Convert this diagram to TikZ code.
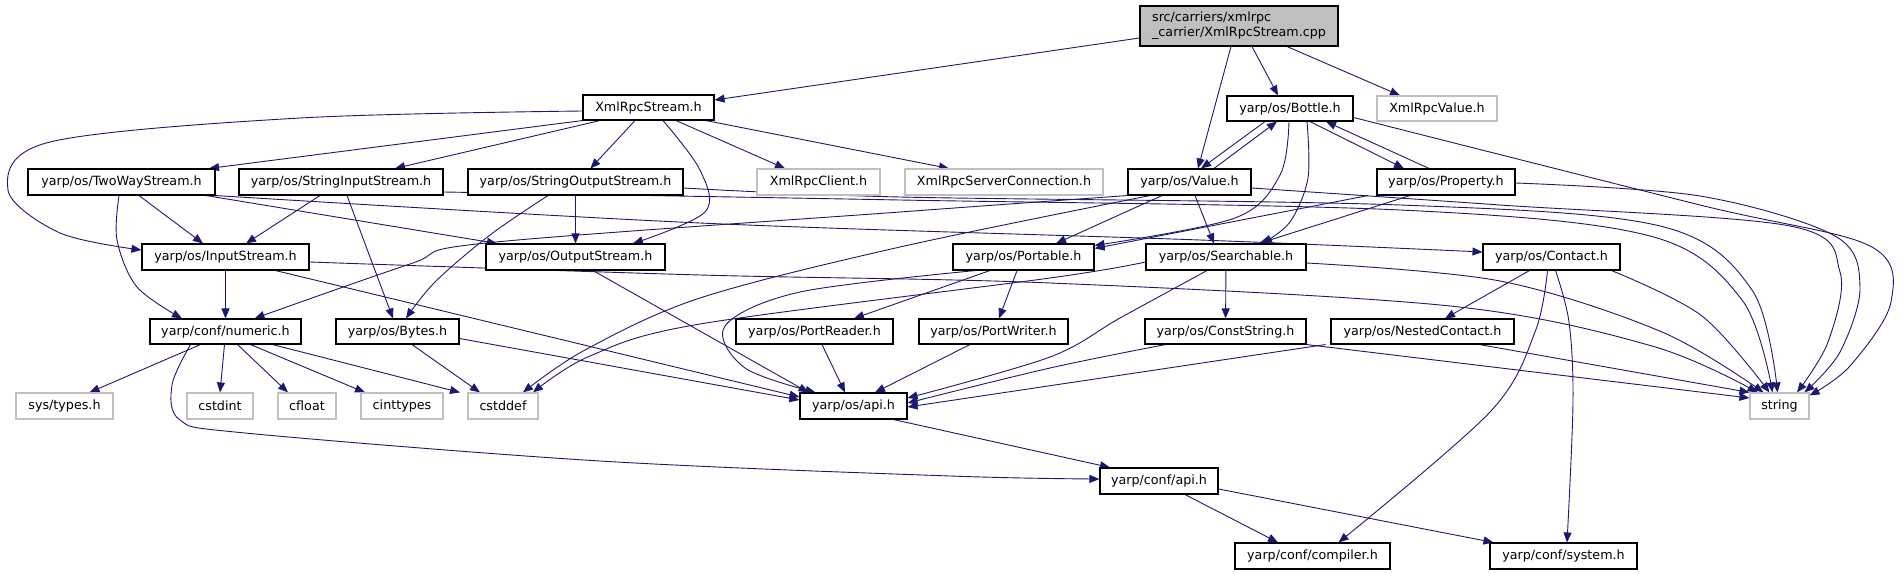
\documentclass[tikz,border=0pt]{standalone}
\usepackage{fontspec}
\setmainfont{DejaVu Sans}
\usetikzlibrary{arrows.meta}
\definecolor{eblue}{HTML}{191970}
\definecolor{gbox}{HTML}{BFBFBF}
\pgfdeclarelayer{bg}
\pgfsetlayers{bg,main}
\begin{document}
\begin{tikzpicture}[x=1pt,y=-1pt,
  every node/.style={font=\fontsize{12.7}{15}\selectfont},
  nb/.style={draw=black, line width=1.1pt, fill=white, inner sep=0pt, minimum height=25pt},
  ng/.style={draw=gbox, line width=1.1pt, fill=white, inner sep=0pt, minimum height=25pt},
  e/.style={draw=eblue, line width=0.9pt, -{Triangle[length=10pt,width=8pt]}},
  sm/.style={smooth, tension=0.55}]
\useasboundingbox (0,0) rectangle (1899,575);
% nodes
\node[nb, fill=gbox, minimum width=198pt, minimum height=40pt, align=left] (root) at (1239,26) {src/carriers/xmlrpc\\\_carrier/XmlRpcStream.cpp};
\node[nb, minimum width=131pt] (xrs) at (648.5,107.5) {XmlRpcStream.h};
\node[nb, minimum width=126pt] (bottle) at (1290,108.5) {yarp/os/Bottle.h};
\node[ng, minimum width=120pt] (xrv) at (1437,108.5) {XmlRpcValue.h};
\node[nb, minimum width=187pt, minimum height=26pt] (tws) at (121.5,182) {yarp/os/TwoWayStream.h};
\node[nb, minimum width=204pt, minimum height=26pt] (sis) at (341,182) {yarp/os/StringInputStream.h};
\node[nb, minimum width=215pt, minimum height=26pt] (sos) at (575.5,182) {yarp/os/StringOutputStream.h};
\node[ng, minimum width=123pt, minimum height=26pt] (xrc) at (818.5,182) {XmlRpcClient.h};
\node[ng, minimum width=198pt, minimum height=26pt] (xrsc) at (1004,182) {XmlRpcServerConnection.h};
\node[nb, minimum width=123pt, minimum height=26pt] (value) at (1189.5,182) {yarp/os/Value.h};
\node[nb, minimum width=138pt, minimum height=26pt] (property) at (1446,182) {yarp/os/Property.h};
\node[nb, minimum width=167pt, minimum height=26pt] (ins) at (225.5,257) {yarp/os/InputStream.h};
\node[nb, minimum width=179pt, minimum height=26pt] (outs) at (575.5,257) {yarp/os/OutputStream.h};
\node[nb, minimum width=141pt, minimum height=26pt] (portable) at (1023.5,257) {yarp/os/Portable.h};
\node[nb, minimum width=160pt, minimum height=26pt] (searchable) at (1226,257) {yarp/os/Searchable.h};
\node[nb, minimum width=137pt, minimum height=26pt] (contact) at (1551.5,257) {yarp/os/Contact.h};
\node[nb, minimum width=151pt] (numeric) at (225.5,331.5) {yarp/conf/numeric.h};
\node[nb, minimum width=123pt] (bytes) at (397.5,331.5) {yarp/os/Bytes.h};
\node[nb, minimum width=157pt] (preader) at (814.5,331.5) {yarp/os/PortReader.h};
\node[nb, minimum width=149pt] (pwriter) at (993.5,331.5) {yarp/os/PortWriter.h};
\node[nb, minimum width=161pt] (cstr) at (1225.5,331.5) {yarp/os/ConstString.h};
\node[nb, minimum width=183pt] (nested) at (1422.5,331.5) {yarp/os/NestedContact.h};
\node[ng, minimum width=97pt, minimum height=26pt] (systypes) at (64.5,406) {sys/types.h};
\node[ng, minimum width=66pt, minimum height=26pt] (cstdint) at (220,406) {cstdint};
\node[ng, minimum width=58pt, minimum height=26pt] (cfloat) at (307,406) {cfloat};
\node[ng, minimum width=82pt, minimum height=26pt] (cinttypes) at (402,406) {cinttypes};
\node[ng, minimum width=70pt, minimum height=26pt] (cstddef) at (503,406) {cstddef};
\node[nb, minimum width=107pt, minimum height=26pt] (osapi) at (853.5,406) {yarp/os/api.h};
\node[ng, minimum width=59pt, minimum height=26pt] (string) at (1779.5,406) {string};
\node[nb, minimum width=118pt, minimum height=26pt] (confapi) at (1159,481) {yarp/conf/api.h};
\node[nb, minimum width=155pt, minimum height=26pt] (compiler) at (1312.5,556) {yarp/conf/compiler.h};
\node[nb, minimum width=147pt, minimum height=26pt] (system) at (1563.5,556) {yarp/conf/system.h};
% edges
\begin{pgfonlayer}{bg}
\draw[e] ([yshift=-12]root.west) -- ([yshift=7.5]xrs.east);
\draw[e] ([xshift=-8]root.south) -- ([xshift=8.5]value.north);
\draw[e] ([xshift=13]root.south) -- ([xshift=-12]bottle.north);
\draw[e] ([xshift=48]root.south) -- ([xshift=-37]xrv.north);
\draw[e] (xrs.south west) -- ([xshift=87.5]tws.north);
\draw[e] ([xshift=-48.5]xrs.south) -- ([xshift=54]sis.north);
\draw[e] ([xshift=-13.5]xrs.south) -- ([xshift=15]sos.north);
\draw[e] plot[sm] coordinates {([xshift=14.5]xrs.south) (700,170) (705,212) ([xshift=57.5]outs.north)};
\draw[e] ([xshift=27.5]xrs.south) -- ([xshift=-33.5]xrc.north);
\draw[e] ([xshift=57.5]xrs.south) -- ([xshift=-55]xrsc.north);
\draw[e] plot[sm] coordinates {([yshift=-3.5]xrs.west) (300,118) (50,142) (8,190) (60,233) ([yshift=7]ins.west)};
\draw[e] ([xshift=17.5]tws.south) -- ([xshift=-22.5]ins.north);
\draw[e] ([xshift=84.5]tws.south) -- ([xshift=-78.5]outs.north);
\draw[e] plot[sm] coordinates {([xshift=-2.5]tws.south) (117,240) (137,287) ([xshift=-43.5]numeric.north)};
\draw[e] plot[sm] coordinates {(tws.south east) (700,223) (1200,240) ([yshift=5]contact.west)};
\draw[e] ([xshift=-21]sis.south) -- ([xshift=20.5]ins.north);
\draw[e] ([xshift=6]sis.south) -- ([xshift=-4.5]bytes.north);
\draw[e] plot[sm] coordinates {([yshift=-10]sis.east) (900,200) (1400,210) (1650,236) (1742,300) ([xshift=-7]string.north)};
\draw[e] (sos) -- (outs);
\draw[e] plot[sm] coordinates {([xshift=-27.5]sos.south) (490,235) (435,282) ([xshift=8.5]bytes.north)};
\draw[e] plot[sm] coordinates {([yshift=-6]sos.east) (900,197) (1400,205) (1660,226) (1752,290) ([xshift=-2]string.north)};
\draw[e] ([xshift=-27.5]value.south) -- ([xshift=32.5]portable.north);
\draw[e] ([xshift=5.5]value.south) -- ([xshift=-12]searchable.north);
\draw[e] plot[sm] coordinates {(value.south west) (900,212) (486,243) (410,264) ([xshift=29]numeric.north)};
\draw[e] plot[sm] coordinates {([xshift=-39.5]value.south) (900,247) (700,298) (585,350) ([xshift=20]cstddef.north)};
\draw[e] plot[sm] coordinates {([yshift=-6]value.east) (1500,205) (1790,226) (1840,272) (1828,342) ([xshift=17.5]string.north)};
\draw[e] ([xshift=-25]bottle.south) -- ([xshift=11.5]value.north);
\draw[e] ([xshift=24.5]value.north) -- ([xshift=-13]bottle.south);
\draw[e] ([xshift=20]bottle.south) -- ([xshift=-42]property.north);
\draw[e] ([xshift=-17]property.north) -- ([xshift=36]bottle.south);
\draw[e] plot[sm] coordinates {([xshift=-1]bottle.south) (1280,175) (1235,218) ([yshift=-2]portable.north east)};
\draw[e] plot[sm] coordinates {([xshift=17]bottle.south) (1308,178) (1290,222) ([xshift=36]searchable.north)};
\draw[e] plot[sm] coordinates {([yshift=-9]bottle.east) (1700,205) (1870,246) (1891,302) (1850,366) ([yshift=-3]string.north east)};
\draw[e] ([xshift=-78]property.south) -- ([yshift=-5]portable.north east);
\draw[e] ([xshift=-36]property.south) -- ([xshift=33]searchable.north);
\draw[e] plot[sm] coordinates {([yshift=-1]property.east) (1700,196) (1835,236) (1860,287) (1840,352) ([xshift=25]string.north)};
\draw[e] (ins) -- (numeric);
\draw[e] ([xshift=50]ins.south) -- ([yshift=9]osapi.west);
\draw[e] plot[sm] coordinates {([yshift=-5]ins.east) (700,275) (1050,283) (1450,306) (1652,346) ([xshift=-22]string.north)};
\draw[e] ([xshift=17.5]outs.south) -- ([xshift=-45]osapi.north);
\draw[e] ([xshift=-25]numeric.south) -- ([xshift=25]systypes.north);
\draw[e] ([xshift=-1]numeric.south) -- (cstdint.north);
\draw[e] ([xshift=12]numeric.south) -- ([xshift=-19]cfloat.north);
\draw[e] ([xshift=25]numeric.south) -- ([xshift=-37]cinttypes.north);
\draw[e] ([xshift=47]numeric.south) -- ([xshift=-43]cstddef.north);
\draw[e] plot[sm] coordinates {([xshift=-35]numeric.south) (172,385) (180,420) (245,433) (600,461) (950,476) ([yshift=2]confapi.west)};
\draw[e] ([xshift=14.5]bytes.south) -- ([xshift=-23]cstddef.north);
\draw[e] ([yshift=-7]bytes.east) -- ([yshift=6]osapi.west);
\draw[e] ([xshift=-33.5]portable.south) -- ([xshift=39.5]preader.north);
\draw[e] ([xshift=-6.5]portable.south) -- ([xshift=5.5]pwriter.north);
\draw[e] plot[sm] coordinates {([xshift=-48]portable.south) (800,292) (725,326) (745,368) ([xshift=-38]osapi.north)};
\draw[e] ([xshift=7.5]preader.south) -- ([xshift=-8.5]osapi.north);
\draw[e] ([xshift=-23.5]pwriter.south) -- ([xshift=21.5]osapi.north);
\draw[e] (searchable) -- (cstr);
\draw[e] plot[sm] coordinates {([yshift=-5]searchable.west) (1050,278) (700,324) (590,356) ([xshift=30]cstddef.north)};
\draw[e] plot[sm] coordinates {([xshift=-19]searchable.south) (1120,318) (1050,357) ([yshift=8]osapi.east)};
\draw[e] plot[sm] coordinates {([yshift=-6]searchable.east) (1500,281) (1662,332) ([xshift=-16]string.north)};
\draw[e] plot[sm] coordinates {([xshift=-60]cstr.south) (1050,368) ([yshift=3]osapi.east)};
\draw[e] (cstr.south east) -- ([yshift=8]string.west);
\draw[e] ([xshift=-97]nested.south) -- ([yshift=-1]osapi.east);
\draw[e] ([xshift=57]nested.south) -- (string.north west);
\draw[e] ([xshift=-22]contact.south) -- ([xshift=22.5]nested.north);
\draw[e] plot[sm] coordinates {([xshift=60]contact.south) (1702,316) ([xshift=-10]string.north)};
\draw[e] plot[sm] coordinates {([xshift=-4]contact.south) (1535,332) (1490,412) ([xshift=26]compiler.north)};
\draw[e] plot[sm] coordinates {([xshift=4]contact.south) (1569,322) (1573,402) ([xshift=3.5]system.north)};
\draw[e] ([xshift=40]osapi.south) -- ([xshift=-49]confapi.north);
\draw[e] ([xshift=26]confapi.south) -- ([xshift=-34.5]compiler.north);
\draw[e] ([yshift=-8]confapi.east) -- ([xshift=-70]system.north);
\end{pgfonlayer}
\end{tikzpicture}
\end{document}
